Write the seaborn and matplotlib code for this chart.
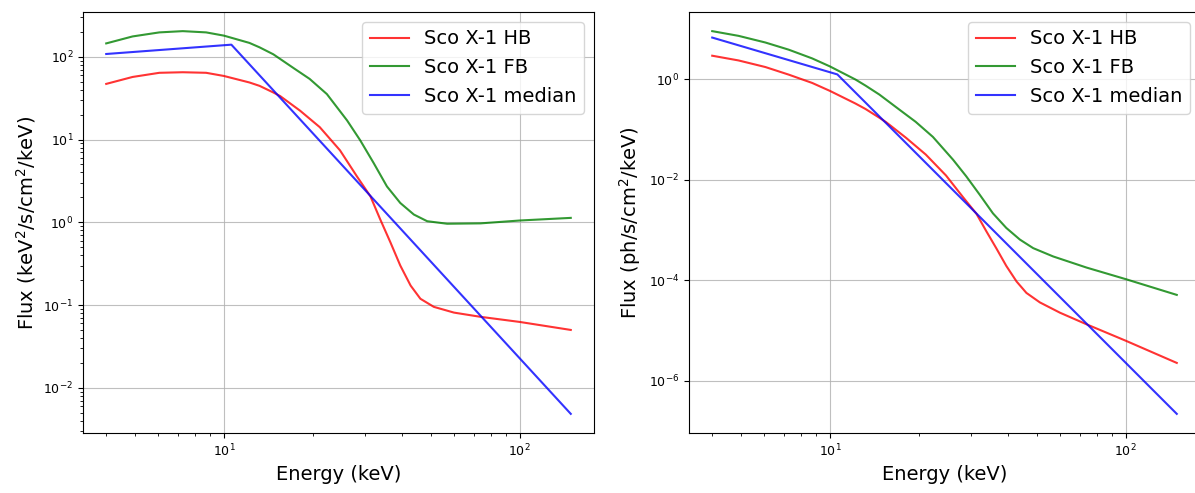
import matplotlib
matplotlib.use('Agg')
import matplotlib.pyplot as plt
from matplotlib.ticker import NullLocator
import pandas as pd
import seaborn as sns

# Energy flux E*F(E) in keV^2/s/cm^2/keV
hb_energy = [4, 4.91, 6.05, 7.26, 8.71, 10, 12.2, 13.2, 14.7, 15.5, 18.1,
             21.1, 24.7, 28.2, 31.3, 33.8, 36.6, 39.5, 42.8, 46.2, 51.3,
             60, 73.8, 100, 149]
hb_flux = [47, 57, 64, 65, 64, 58.6, 48.9, 44.5, 37, 33.5, 22.3,
           14.1, 7.4, 3.57, 2.06, 1.08, 0.569, 0.30, 0.172, 0.119, 0.095,
           0.081, 0.072, 0.0625, 0.050]

fb_energy = [4, 4.91, 6.05, 7.26, 8.71, 10, 12.2, 13.2, 14.7, 17.3, 19.5,
             22.3, 26.1, 28.9, 32.1, 35.6, 39.5, 43.9, 48.7, 56.9, 73.8,
             100, 149]
fb_flux = [145, 176, 197, 204, 197, 180, 147, 130, 107, 72, 54,
           35.4, 17.0, 9.8, 5.2, 2.71, 1.71, 1.24, 1.03, 0.96, 0.97,
           1.05, 1.13]

med_energy = [4, 10.6, 149]
med_flux = [108, 140, 0.00484]

labels = ['Sco X-1 HB', 'Sco X-1 FB', 'Sco X-1 median']
colors = ['r', 'g', 'b']

rows = []
for lab, en, fl in zip(labels, [hb_energy, fb_energy, med_energy],
                       [hb_flux, fb_flux, med_flux]):
    for e, f in zip(en, fl):
        rows.append({'source': lab, 'energy': e, 'eflux': f})
df = pd.DataFrame(rows)
# photon flux = energy flux / E^2
df['pflux'] = df['eflux'] / df['energy'] ** 2

fig = plt.figure(figsize=(11.95, 4.93), dpi=100)
ax1 = fig.add_axes([83 / 1195, 60 / 493, 511 / 1195, 421 / 493])
ax2 = fig.add_axes([689 / 1195, 60 / 493, 511 / 1195, 421 / 493])

for ax, col, ylab in [(ax1, 'eflux', 'Flux (keV$^2$/s/cm$^2$/keV)'),
                      (ax2, 'pflux', 'Flux (ph/s/cm$^2$/keV)')]:
    ax.set_xscale('log')
    ax.set_yscale('log')
    sns.lineplot(data=df, x='energy', y=col, hue='source', hue_order=labels,
                 palette=colors, alpha=0.8, linewidth=1.5, sort=False,
                 estimator=None, ax=ax)
    ax.grid(True, which='major', color='#b0b0b0', linewidth=0.8, alpha=0.8)
    ax.set_xlabel('Energy (keV)', fontsize=14)
    ax.set_ylabel(ylab, fontsize=14)
    ax.tick_params(labelsize=9)
    ax.legend(loc='upper right', fontsize=14)

ax2.set_yticks([1e-6, 1e-4, 1e-2, 1])
ax2.yaxis.set_minor_locator(NullLocator())

fig.savefig('out.png', dpi=100)
